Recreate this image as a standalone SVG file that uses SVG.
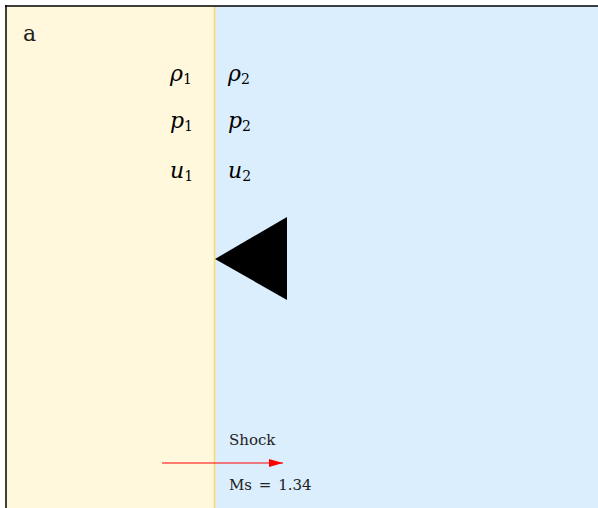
<svg xmlns="http://www.w3.org/2000/svg" width="598" height="508" viewBox="0 0 598 508">
<style>
.m{font-family:"DejaVu Serif","Liberation Serif",serif;font-style:italic;font-size:22px;fill:#000}
.s{font-family:"DejaVu Serif","Liberation Serif",serif;font-size:14px;font-style:normal}
.t{font-family:"DejaVu Serif","Liberation Serif",serif;fill:#222}
</style>
<defs>
<marker id="ah" viewBox="0 0 14 8" refX="14" refY="4" markerWidth="14" markerHeight="8" markerUnits="userSpaceOnUse" orient="auto">
<path d="M0,0 L14,4 L0,8 Z" fill="#ff0000"/>
</marker>
</defs>
<g id="left-region">
<rect x="6" y="6" width="209" height="502" fill="#fff8dc"/>
</g>
<g id="right-region">
<rect x="215" y="6" width="383" height="502" fill="#dbeefd"/>
</g>
<g id="interface">
<line x1="214.5" y1="6" x2="214.5" y2="508" stroke="#ffd966" stroke-width="1.5"/>
</g>
<g id="frame">
<line x1="5" y1="6" x2="598" y2="6" stroke="#000" stroke-width="1.5"/>
<line x1="6" y1="5" x2="6" y2="508" stroke="#000" stroke-width="1.5"/>
</g>
<g id="label-a"><text x="23" y="41" class="t" font-size="22" fill="#000">a</text></g>
<g id="left-labels">
<text x="170" y="81" class="m">ρ<tspan class="s" dy="3">1</tspan></text>
<text x="170" y="128" class="m">p<tspan class="s" dy="3">1</tspan></text>
<text x="170" y="178" class="m">u<tspan class="s" dy="3">1</tspan></text>
</g>
<g id="right-labels">
<text x="228" y="81" class="m">ρ<tspan class="s" dy="3">2</tspan></text>
<text x="228" y="128" class="m">p<tspan class="s" dy="3">2</tspan></text>
<text x="228" y="178" class="m">u<tspan class="s" dy="3">2</tspan></text>
</g>
<g id="piston">
<polygon points="215,259 287,217 287,300" fill="#000"/>
</g>
<g id="connectors">
<line x1="162" y1="463" x2="283" y2="463" stroke="#ff0000" stroke-width="1.2" marker-end="url(#ah)"/>
</g>
<g id="shock-labels">
<text x="229" y="445" class="t" font-size="15">Shock</text>
<text x="229" y="490" class="t" font-size="15" word-spacing="2">Ms = 1.34</text>
</g>
</svg>
